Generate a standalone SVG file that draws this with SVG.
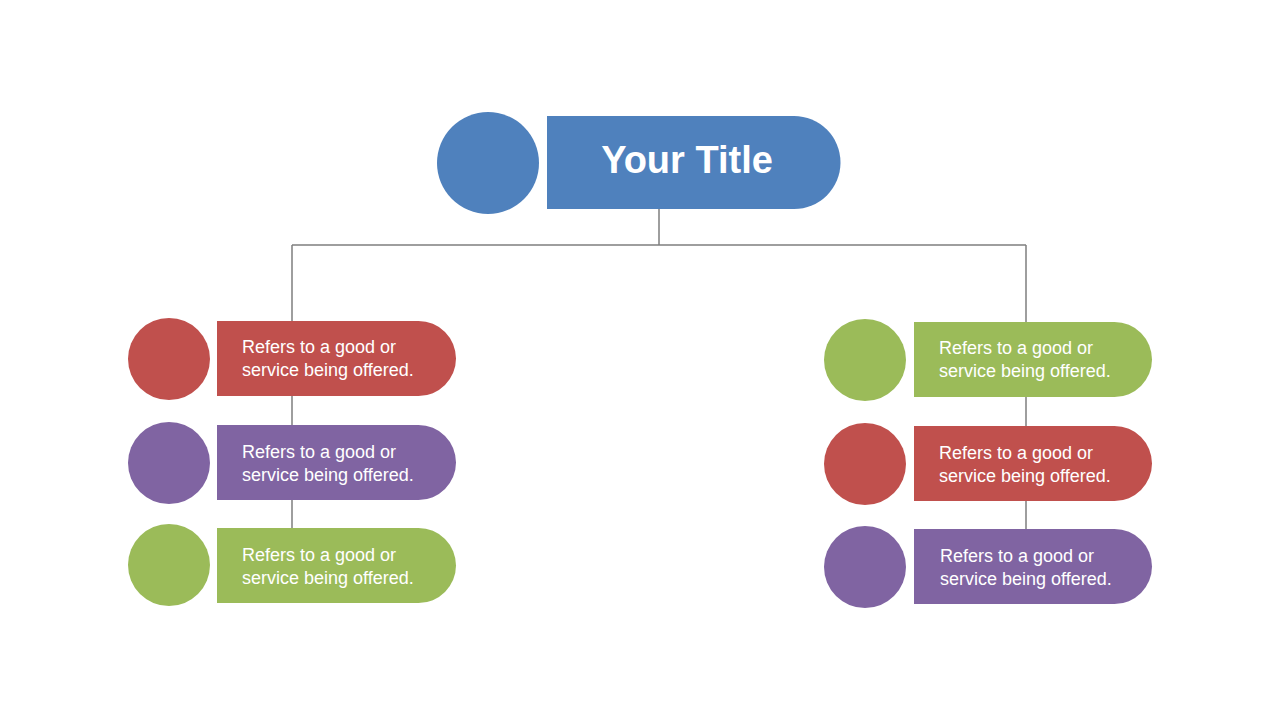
<svg xmlns="http://www.w3.org/2000/svg" width="1280" height="720" viewBox="0 0 1280 720">
<style>
.b{fill:#4F81BD}.r{fill:#C0504D}.p{fill:#8064A2}.g{fill:#9BBB59}
.t{font-family:"Liberation Sans",Arial,sans-serif;font-size:18px;fill:#fff}
.c{stroke:#7F7F7F;stroke-width:1.5;fill:none}
</style>
<rect width="1280" height="720" fill="#fff"/>
<g id="connectors">
<path class="c" d="M659,209V245M292,245H1026M292,245V565M1026,245V567"/>
</g>
<g id="title">
<circle class="b" cx="488" cy="163" r="51"/>
<path class="b" d="M547,116H794A46.5,46.5 0 0 1 794,209H547Z"/>
<text x="687" y="173" text-anchor="middle" style="font-family:'Liberation Sans',Arial,sans-serif;font-size:38px;font-weight:bold;fill:#fff">Your Title</text>
</g>
<g id="l1"><circle class="r" cx="169" cy="359" r="41"/><path class="r" d="M217,321H418.5A37.5,37.5 0 0 1 418.5,396H217Z"/><text class="t" x="242" y="353">Refers to a good or</text><text class="t" x="242" y="376">service being offered.</text></g>
<g id="l2"><circle class="p" cx="169" cy="463" r="41"/><path class="p" d="M217,425H418.5A37.5,37.5 0 0 1 418.5,500H217Z"/><text class="t" x="242" y="458">Refers to a good or</text><text class="t" x="242" y="481">service being offered.</text></g>
<g id="l3"><circle class="g" cx="169" cy="565" r="41"/><path class="g" d="M217,528H418.5A37.5,37.5 0 0 1 418.5,603H217Z"/><text class="t" x="242" y="561">Refers to a good or</text><text class="t" x="242" y="584">service being offered.</text></g>
<g id="r1"><circle class="g" cx="865" cy="360" r="41"/><path class="g" d="M914,322H1114.5A37.5,37.5 0 0 1 1114.5,397H914Z"/><text class="t" x="939" y="354">Refers to a good or</text><text class="t" x="939" y="377">service being offered.</text></g>
<g id="r2"><circle class="r" cx="865" cy="464" r="41"/><path class="r" d="M914,426H1114.5A37.5,37.5 0 0 1 1114.5,501H914Z"/><text class="t" x="939" y="459">Refers to a good or</text><text class="t" x="939" y="482">service being offered.</text></g>
<g id="r3"><circle class="p" cx="865" cy="567" r="41"/><path class="p" d="M914,529H1114.5A37.5,37.5 0 0 1 1114.5,604H914Z"/><text class="t" x="940" y="562">Refers to a good or</text><text class="t" x="940" y="585">service being offered.</text></g>
</svg>
